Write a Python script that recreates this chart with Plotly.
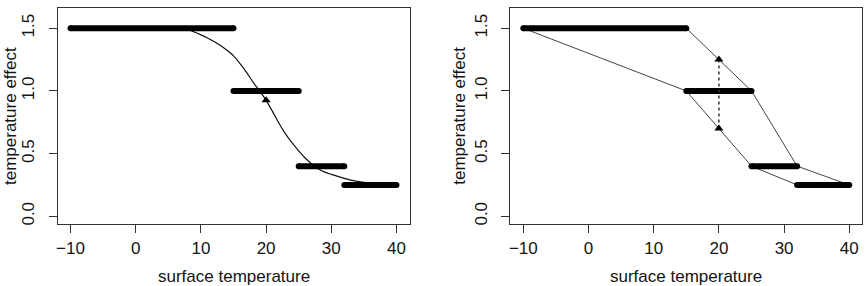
import plotly.graph_objects as go

# ---- data ----
# observed step segments (shared by both panels)
seg_x0 = [-10, 15, 25, 32]
seg_x1 = [15, 25, 32, 40]
seg_y = [1.5, 1.0, 0.4, 0.25]

# left panel: smooth fitted curve
curve_x = [7, 8, 9, 10, 11, 12, 13, 14, 15, 16, 17, 18, 19, 20, 21, 22, 23, 24,
           25, 26, 27, 28, 29, 30, 31, 32, 33, 34, 35, 36, 37, 38, 39, 40]
curve_y = [1.50, 1.49, 1.47, 1.447, 1.422, 1.394, 1.362, 1.324, 1.28, 1.218, 1.148,
           1.07, 1.0, 0.925, 0.835, 0.74, 0.655, 0.585, 0.522, 0.465, 0.418,
           0.38, 0.352, 0.334, 0.318, 0.303, 0.289, 0.279, 0.271, 0.265, 0.26,
           0.257, 0.254, 0.252]
left_tri_x = [20]
left_tri_y = [0.925]

# right panel: upper and lower interpolation lines
upper_x = [15, 20, 25, 32, 40]
upper_y = [1.5, 1.25, 1.0, 0.4, 0.25]
lower_x = [-10, 15, 20, 25, 32, 40]
lower_y = [1.5, 1.0, 0.7, 0.4, 0.25, 0.25]
range_x = [20, 20]
range_y = [0.7, 1.25]

x_ticks = [-10, 0, 10, 20, 30, 40]
x_ticktext = ["\u221210", "0", "10", "20", "30", "40"]
y_ticks = [0.0, 0.5, 1.0, 1.5]
y_ticktext = ["0.0", "0.5", "1.0", "1.5"]

x_title = "surface temperature"
y_title = "temperature effect"

# ---- figure ----
W, H = 866, 286
FONT = "Liberation Sans, Arial, sans-serif"
TXT = "#141414"
FRAME = "#333333"

fig = go.Figure()


def add_segments(xa, ya):
    for a, b, y in zip(seg_x0, seg_x1, seg_y):
        fig.add_trace(go.Scatter(
            x=[a, b], y=[y, y], mode="lines+markers", xaxis=xa, yaxis=ya,
            line=dict(color="black", width=6),
            marker=dict(color="black", size=6, symbol="circle", line=dict(width=0)),
            showlegend=False, hoverinfo="skip"))


# left panel
fig.add_trace(go.Scatter(x=curve_x, y=curve_y, mode="lines", xaxis="x", yaxis="y",
                         line=dict(color="#111111", width=1.2, shape="spline", smoothing=0.8),
                         showlegend=False))
add_segments("x", "y")
fig.add_trace(go.Scatter(x=left_tri_x, y=left_tri_y, mode="markers", xaxis="x", yaxis="y",
                         marker=dict(symbol="triangle-up", size=8, color="black"),
                         showlegend=False))

# right panel
fig.add_trace(go.Scatter(x=upper_x, y=upper_y, mode="lines", xaxis="x2", yaxis="y2",
                         line=dict(color="#444444", width=1), showlegend=False))
fig.add_trace(go.Scatter(x=lower_x, y=lower_y, mode="lines", xaxis="x2", yaxis="y2",
                         line=dict(color="#444444", width=1), showlegend=False))
add_segments("x2", "y2")
fig.add_trace(go.Scatter(x=range_x, y=range_y, mode="lines+markers", xaxis="x2", yaxis="y2",
                         line=dict(color="#333333", width=1.5, dash="3px,3px"),
                         marker=dict(symbol="triangle-up", size=8, color="black"),
                         showlegend=False))

xd1 = [57.5 / W, 409.5 / W]
xd2 = [510.3 / W, 862.3 / W]
yd = [1 - 224.3 / H, 1 - 7.7 / H]

axis_common = dict(showline=True, mirror=True, linecolor=FRAME, linewidth=1,
                   ticks="outside", ticklen=8, tickcolor=FRAME, tickwidth=1,
                   showgrid=False, zeroline=False,
                   tickfont=dict(family=FONT, size=17, color=TXT))

fig.update_layout(
    width=W, height=H, margin=dict(l=0, r=0, t=0, b=0),
    paper_bgcolor="white", plot_bgcolor="white",
    xaxis=dict(domain=xd1, range=[-12, 42], tickvals=x_ticks, ticktext=x_ticktext,
               anchor="y", **axis_common),
    yaxis=dict(domain=yd, range=[-0.064, 1.664], tickvals=y_ticks, ticktext=y_ticktext,
               tickangle=-90, anchor="x", ticklabelstandoff=8, **axis_common),
    xaxis2=dict(domain=xd2, range=[-12, 42], tickvals=x_ticks, ticktext=x_ticktext,
                anchor="y2", **axis_common),
    yaxis2=dict(domain=yd, range=[-0.064, 1.664], tickvals=y_ticks, ticktext=y_ticktext,
                tickangle=-90, anchor="x2", ticklabelstandoff=8, **axis_common),
)

ycen = 1 - 116 / H
ann_font = dict(family=FONT, size=17, color=TXT)
fig.add_annotation(text=x_title, x=(xd1[0] + xd1[1]) / 2, y=1 - 276 / H, xref="paper", yref="paper",
                   showarrow=False, xanchor="center", yanchor="middle", font=ann_font)
fig.add_annotation(text=x_title, x=(xd2[0] + xd2[1]) / 2, y=1 - 276 / H, xref="paper", yref="paper",
                   showarrow=False, xanchor="center", yanchor="middle", font=ann_font)
fig.add_annotation(text=y_title, x=10 / W, y=ycen, xref="paper", yref="paper",
                   showarrow=False, xanchor="center", yanchor="middle", textangle=-90, font=ann_font)
fig.add_annotation(text=y_title, x=458.8 / W, y=ycen, xref="paper", yref="paper",
                   showarrow=False, xanchor="center", yanchor="middle", textangle=-90, font=ann_font)

fig.write_html("out.html")
